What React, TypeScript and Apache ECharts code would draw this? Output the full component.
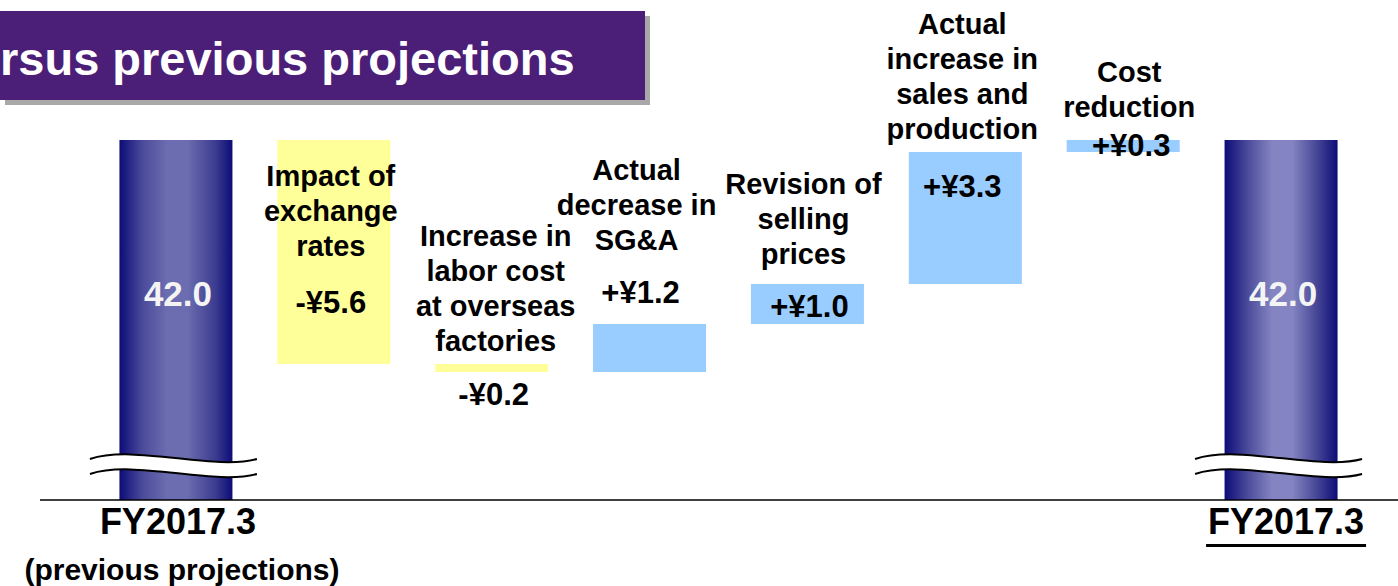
import React, { useEffect, useRef } from "react";
import * as echarts from "echarts";

// ---------- data ----------
const titleText = "rsus previous projections";
const startLabel = "FY2017.3";
const startSubLabel = "(previous projections)";
const endLabel = "FY2017.3";
const startValue = 42.0;
const endValue = 42.0;
const changeNames = [
  "Impact of\nexchange\nrates",
  "Increase in\nlabor cost\nat overseas\nfactories",
  "Actual\ndecrease in\nSG&A",
  "Revision of\nselling\nprices",
  "Actual\nincrease in\nsales and\nproduction",
  "Cost\nreduction",
];
const changes = [-5.6, -0.2, 1.2, 1.0, 3.3, 0.3];
const changeLabels = ["-¥5.6", "-¥0.2", "+¥1.2", "+¥1.0", "+¥3.3", "+¥0.3"];
const axisMin = 33;
const axisMax = 45.5;
const breakValue = 33.85;

// ---------- layout / style (pixel offsets for text placement) ----------
const nameDy = [106, -23, -84, -30, -23, -33];
const nameDx = [-3, 4, -13, -4, -3, 6];
const valueDy = [162, 30, -32, 22, 34, 5];
const valueDx = [-3, 2, -9, 2, -3, 8];
const FONT = '"Liberation Sans", Arial, Helvetica, sans-serif';

export default function App() {
  const ref = useRef<HTMLDivElement>(null);

  useEffect(() => {
    if (!ref.current) return;
    const chart = echarts.init(ref.current, undefined, { renderer: "svg" });

    const n = changes.length + 2;
    const cats = Array.from({ length: n }, (_, i) =>
      i === 0 ? startLabel : i === n - 1 ? endLabel : changeNames[i - 1]
    );

    // waterfall computation
    const baseData: any[] = ["-"];
    const deltaData: any[] = ["-"];
    const labelData: any[] = [];
    let running = startValue;
    changes.forEach((c, k) => {
      const next = running + c;
      const low = Math.min(running, next);
      const high = Math.max(running, next);
      baseData.push(low);
      deltaData.push({
        value: Math.abs(c),
        itemStyle: { color: c < 0 ? "#ffff99" : "#99ccff" },
      });
      labelData.push([k + 1, high, low]);
      running = next;
    });
    baseData.push("-");
    deltaData.push("-");

    const pillarGrad = (peak: string) =>
      new echarts.graphic.LinearGradient(0, 0, 1, 0, [
        { offset: 0, color: "#0c0c78" },
        { offset: 0.2, color: "#4a4a9a" },
        { offset: 0.42, color: peak },
        { offset: 0.6, color: peak },
        { offset: 0.85, color: "#3c3c90" },
        { offset: 1, color: "#0c0c78" },
      ]);

    const pillarData: any[] = cats.map(() => "-");
    pillarData[0] = { value: startValue, itemStyle: { color: pillarGrad("#6c6cb0") } };
    pillarData[n - 1] = { value: endValue, itemStyle: { color: pillarGrad("#8484c2") } };

    const option: any = {
      animation: false,
      backgroundColor: "#ffffff",
      grid: { left: 97, right: 38, top: 0, bottom: 86 },
      xAxis: { type: "category", data: cats, show: false },
      yAxis: { type: "value", min: axisMin, max: axisMax, show: false },
      graphic: [
        {
          type: "rect",
          shape: { x: 5, y: 16, width: 645, height: 89 },
          style: { fill: "#a8a8a8" },
          z: 10,
        },
        {
          type: "rect",
          shape: { x: -2, y: 11, width: 647, height: 89 },
          style: { fill: "#4b1e78" },
          z: 11,
        },
        {
          type: "text",
          x: 0,
          y: 58,
          z: 12,
          style: {
            text: titleText,
            fill: "#ffffff",
            font: `bold 47px ${FONT}`,
            align: "left",
            verticalAlign: "middle",
          },
        },
        {
          type: "line",
          shape: { x1: 40, y1: 500, x2: 1398, y2: 500 },
          style: { stroke: "#000000", lineWidth: 1.5 },
          z: 5,
        },
      ],
      series: [
        {
          type: "bar",
          stack: "wf",
          data: pillarData,
          barWidth: 113,
          z: 2,
        },
        {
          type: "bar",
          stack: "wf",
          data: baseData,
          barWidth: 113,
          itemStyle: { color: "rgba(0,0,0,0)" },
          silent: true,
        },
        {
          type: "bar",
          stack: "wf",
          data: deltaData,
          barWidth: 113,
        },
        {
          type: "custom",
          data: [
            [0, breakValue],
            [n - 1, breakValue],
          ],
          z: 3,
          renderItem: (_params: any, api: any) => {
            const c = api.coord([api.value(0), api.value(1)]);
            const cx = c[0] - 2;
            const cy = c[1];
            const top = "M -84 -7 C -40 -22 40 5 83 -7";
            const bot = "M -84 8 C -40 -7 40 20 83 8";
            const fill =
              "M -84 -7 C -40 -22 40 5 83 -7 L 83 8 C 40 20 -40 -7 -84 8 Z";
            return {
              type: "group",
              x: cx,
              y: cy,
              children: [
                { type: "path", shape: { pathData: fill }, style: { fill: "#ffffff", stroke: "none" } },
                { type: "path", shape: { pathData: top }, style: { fill: "none", stroke: "#000", lineWidth: 2 } },
                { type: "path", shape: { pathData: bot }, style: { fill: "none", stroke: "#000", lineWidth: 2 } },
              ],
            };
          },
        },
        {
          type: "custom",
          data: [
            [0, axisMin, startValue],
            [n - 1, axisMin, endValue],
          ],
          z: 3,
          renderItem: (_params: any, api: any) => {
            const i = api.value(0);
            const c = api.coord([i, api.value(1)]);
            const tp = api.coord([i, api.value(2)]);
            const children: any[] = [
              {
                type: "text",
                x: tp[0] + 2,
                y: tp[1] + 153,
                style: {
                  text: Number(api.value(2)).toFixed(1),
                  fill: "#f4f4f4",
                  font: `bold 35px ${FONT}`,
                  align: "center",
                  verticalAlign: "middle",
                },
              },
              {
                type: "text",
                x: c[0] + (i === 0 ? 2 : 5),
                y: c[1] + 21,
                style: {
                  text: i === 0 ? startLabel : endLabel,
                  fill: "#000",
                  font: `bold 36px ${FONT}`,
                  align: "center",
                  verticalAlign: "middle",
                },
              },
            ];
            if (i === 0) {
              children.push({
                type: "text",
                x: c[0] + 6,
                y: c[1] + 69,
                style: {
                  text: startSubLabel,
                  fill: "#000",
                  font: `bold 30px ${FONT}`,
                  align: "center",
                  verticalAlign: "middle",
                },
              });
            } else {
              children.push({
                type: "rect",
                shape: { x: c[0] - 75, y: c[1] + 44, width: 160, height: 3 },
                style: { fill: "#000" },
              });
            }
            return { type: "group", children };
          },
        },
        {
          type: "custom",
          data: labelData,
          z: 4,
          renderItem: (_params: any, api: any) => {
            const i = api.value(0);
            const k = i - 1;
            const t = api.coord([i, api.value(1)]);
            return {
              type: "group",
              children: [
                {
                  type: "text",
                  x: t[0] + nameDx[k],
                  y: t[1] + nameDy[k] + 17.5,
                  style: {
                    text: changeNames[k],
                    fill: "#000",
                    font: `bold 29px ${FONT}`,
                    lineHeight: 35,
                    align: "center",
                    verticalAlign: "bottom",
                  },
                },
                {
                  type: "text",
                  x: t[0] + valueDx[k],
                  y: t[1] + valueDy[k],
                  style: {
                    text: changeLabels[k],
                    fill: "#000",
                    font: `bold 31px ${FONT}`,
                    align: "center",
                    verticalAlign: "middle",
                  },
                },
              ],
            };
          },
        },
      ],
    };

    chart.setOption(option);
    return () => chart.dispose();
  }, []);

  return (
    <div
      ref={ref}
      style={{ position: "fixed", left: 0, top: 0, width: 1398, height: 586 }}
    />
  );
}
